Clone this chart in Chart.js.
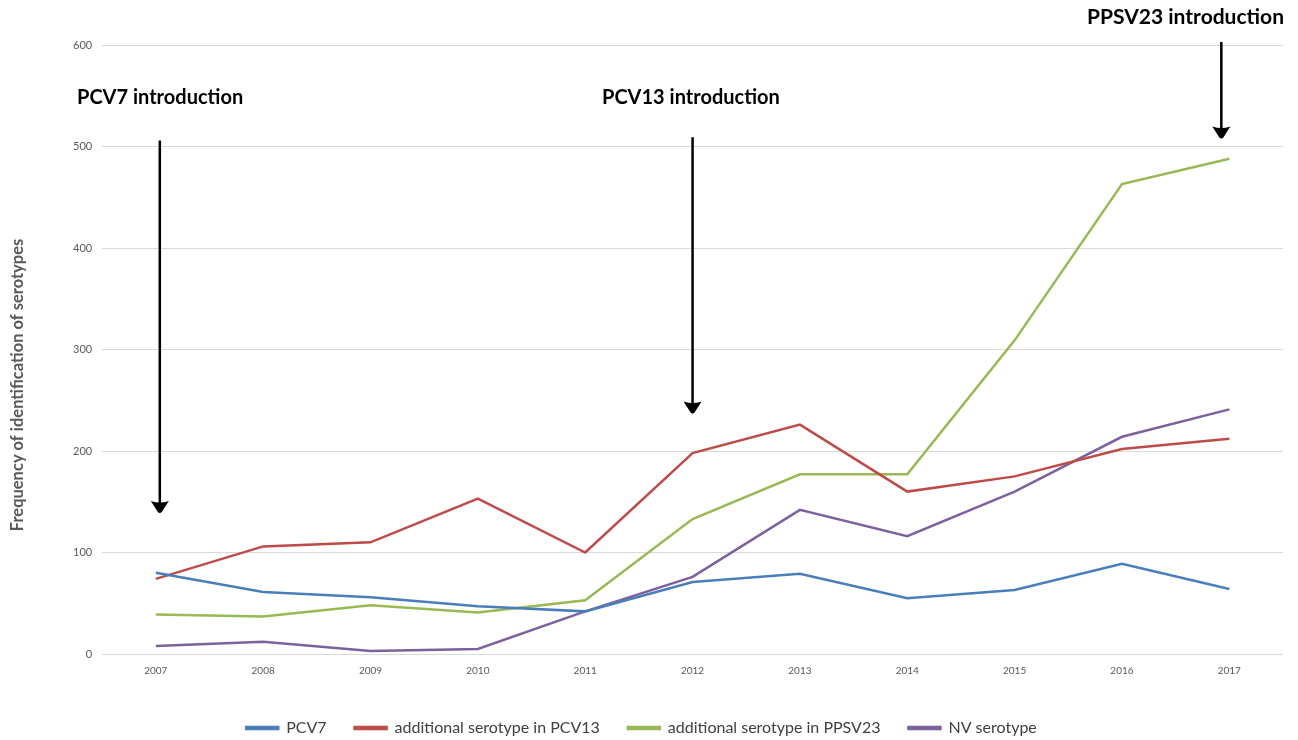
<!DOCTYPE html>
<html>
<head>
<meta charset="utf-8">
<script src="https://cdn.jsdelivr.net/npm/chart.js@4"></script>
<style>
  html, body { margin: 0; padding: 0; background: #fff; }
  #wrap { width: 1298px; height: 740px; position: relative; }
</style>
</head>
<body>
<div id="wrap"><canvas id="myChart" width="1298" height="740"></canvas></div>
<script>
// chart data
let years = ["2007", "2008", "2009", "2010", "2011", "2012", "2013", "2014", "2015", "2016", "2017"];
let pcv7 = [80, 61, 56, 47, 42, 71, 79, 55, 63, 89, 64];
let addPcv13 = [74, 106, 110, 153, 100, 198, 226, 160, 175, 202, 212];
let addPpsv23 = [39, 37, 48, 41, 53, 133, 177, 177, 309, 463, 488];
let nvSerotype = [8, 12, 3, 5, 42, 76, 142, 116, 160, 214, 241];
let yTicks = [0, 100, 200, 300, 400, 500, 600];
let yTitle = "Frequency of identification of serotypes";

// annotations: label, arrow year index, arrow top value, arrow tip value, text value
let notes = [
  { text: "PCV7 introduction", idx: 0, top: 506, tip: 139, textY: 548, textX: 77, size: 20 },
  { text: "PCV13 introduction", idx: 5, top: 509, tip: 237, textY: 548, textX: 602, size: 20 },
  { text: "PPSV23 introduction", idx: 10, top: 603, tip: 508, textY: 627, textX: 1087, size: 21 }
];

// draws the arrows, labels and the y title
let arrowPlugin = {
  id: "arrows",
  afterDatasetsDraw(chart) {
    let ctx = chart.ctx;
    let x = chart.scales.x;
    let y = chart.scales.y;
    ctx.save();
    notes.forEach((n, i) => {
      let ax = x.getPixelForValue(n.idx) + (i == 0 ? 4 : (i == 2 ? -8 : 0));
      let yTop = y.getPixelForValue(n.top);
      let yTip = y.getPixelForValue(n.tip);
      ctx.strokeStyle = "#000";
      ctx.lineWidth = 2.5;
      ctx.beginPath();
      ctx.moveTo(ax, yTop);
      ctx.lineTo(ax, yTip - 8);
      ctx.stroke();
      ctx.fillStyle = "#000";
      ctx.beginPath();
      ctx.moveTo(ax - 9, yTip - 12);
      ctx.quadraticCurveTo(ax, yTip - 9, ax + 9, yTip - 12);
      ctx.lineTo(ax + 2, yTip - 1);
      ctx.quadraticCurveTo(ax, yTip + 1, ax - 2, yTip - 1);
      ctx.closePath();
      ctx.fill();
      ctx.font = "bold " + n.size + "px Lato";
      ctx.textAlign = "left";
      ctx.textBaseline = "middle";
      ctx.fillText(n.text, n.textX, y.getPixelForValue(n.textY));
    });
    // y axis title
    ctx.translate(18, 385);
    ctx.rotate(-Math.PI / 2);
    ctx.font = "bold 16.5px Lato";
    ctx.fillStyle = "#595959";
    ctx.textAlign = "center";
    ctx.textBaseline = "middle";
    ctx.fillText(yTitle, 0, 0);
    ctx.restore();
  }
};

let ctx = document.getElementById("myChart").getContext("2d");

let myChart = new Chart(ctx, {
  type: "line",
  data: {
    labels: years,
    datasets: [
      { label: "PCV7", data: pcv7, borderColor: "#4A7EBB", backgroundColor: "#4A7EBB" },
      { label: "additional serotype in PCV13", data: addPcv13, borderColor: "#BE4B48", backgroundColor: "#BE4B48" },
      { label: "additional serotype in PPSV23", data: addPpsv23, borderColor: "#98B954", backgroundColor: "#98B954" },
      { label: "NV serotype", data: nvSerotype, borderColor: "#7D60A0", backgroundColor: "#7D60A0" }
    ]
  },
  options: {
    responsive: false,
    animation: false,
    layout: { padding: { top: 45, right: 15, left: 0, bottom: -6 } },
    elements: {
      point: { radius: 0 },
      line: { borderWidth: 2.5, tension: 0 }
    },
    scales: {
      x: {
        offset: true,
        grid: { display: false },
        border: { display: false },
        ticks: { color: "#595959", font: { family: "Lato", size: 10 }, maxRotation: 0, padding: 3 },
        afterFit: axis => { axis.height += 12; }
      },
      y: {
        min: 0,
        max: 600,
        afterBuildTicks: axis => { axis.ticks = yTicks.map(v => ({ value: v })); },
        grid: { color: "#D9D9D9", drawTicks: false },
        border: { display: false },
        ticks: { color: "#595959", font: { family: "Lato", size: 11 }, padding: 10 },
        afterFit: axis => { axis.width += 63; }
      }
    },
    plugins: {
      legend: {
        position: "bottom",
        labels: {
          color: "#404040",
          font: { family: "Lato", size: 16 },
          boxWidth: 32,
          boxHeight: 2,
          padding: 28
        }
      },
      tooltip: { enabled: false }
    }
  },
  plugins: [arrowPlugin]
});
</script>
</body>
</html>
